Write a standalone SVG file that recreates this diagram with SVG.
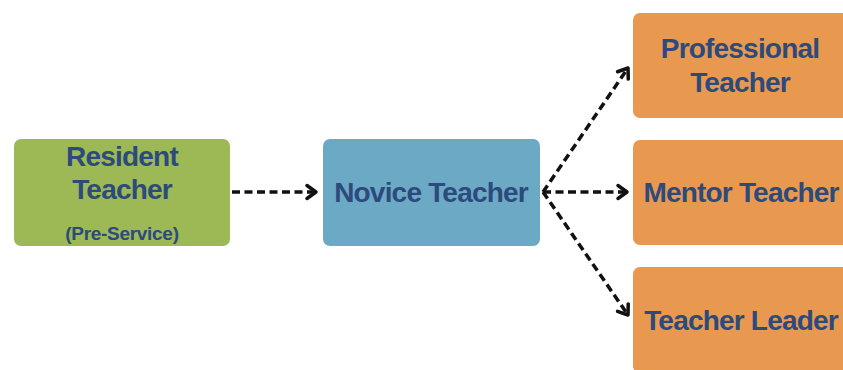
<svg xmlns="http://www.w3.org/2000/svg" width="843" height="370" viewBox="0 0 843 370">
  <style>
    .box { stroke: none; }
    .green { fill: #9CB955; }
    .blue { fill: #6BA9C5; }
    .orange { fill: #E9994F; }
    .label { font-family: "Liberation Sans", Arial, sans-serif; font-weight: 700; fill: #2C4A7C; text-anchor: middle; font-size: 28px; letter-spacing: -0.8px; }
    .small { font-size: 19px; letter-spacing: -0.3px; }
    .link { stroke: #111; stroke-width: 3.5; stroke-dasharray: 8 4.5; fill: none; marker-end: url(#chev); }
  </style>
  <defs>
    <marker id="chev" markerUnits="userSpaceOnUse" markerWidth="16" markerHeight="18" refX="12" refY="9" orient="auto">
      <path d="M3,2.5 L12,9 L3,15.5" fill="none" stroke="#111" stroke-width="3.5" stroke-linecap="round" stroke-linejoin="round"/>
    </marker>
  </defs>
  <rect width="843" height="370" fill="#ffffff"/>

  <g id="connectors">
    <line class="link" x1="232" y1="192" x2="316" y2="192"/>
    <line class="link" x1="543" y1="192" x2="627" y2="192"/>
    <line class="link" x1="543" y1="192" x2="628" y2="68"/>
    <line class="link" x1="543" y1="192" x2="628" y2="315"/>
  </g>

  <g id="resident">
    <rect class="box green" x="14" y="139" width="216" height="107" rx="7"/>
    <text class="label" x="122" y="166">Resident</text>
    <text class="label" x="122" y="199">Teacher</text>
    <text class="label small" x="122" y="240">(Pre-Service)</text>
  </g>

  <g id="novice">
    <rect class="box blue" x="323" y="139" width="217" height="107" rx="7"/>
    <text class="label" x="431" y="202">Novice Teacher</text>
  </g>

  <g id="professional">
    <rect class="box orange" x="633" y="13" width="216" height="105" rx="7"/>
    <text class="label" x="740" y="58">Professional</text>
    <text class="label" x="740" y="92">Teacher</text>
  </g>

  <g id="mentor">
    <rect class="box orange" x="633" y="140" width="216" height="105" rx="7"/>
    <text class="label" x="741" y="202">Mentor Teacher</text>
  </g>

  <g id="leader">
    <rect class="box orange" x="633" y="267" width="216" height="106" rx="7"/>
    <text class="label" x="741" y="330">Teacher Leader</text>
  </g>
</svg>
